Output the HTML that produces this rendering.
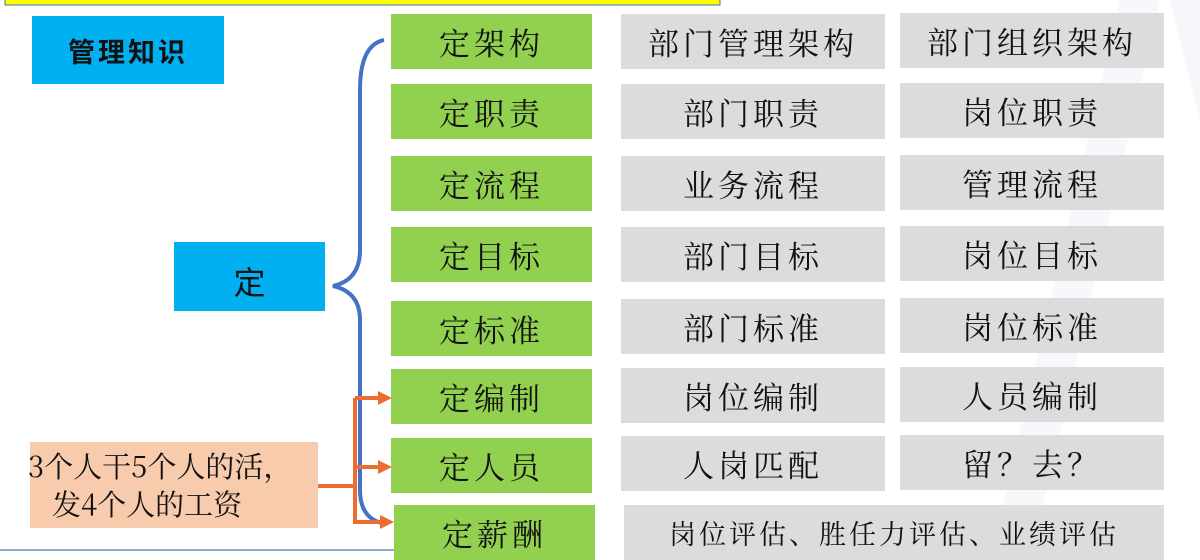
<!DOCTYPE html>
<html><head><meta charset="utf-8"><style>
body{margin:0;width:1200px;height:560px;overflow:hidden;background:#fff;position:relative;font-family:"Noto Serif CJK SC","Liberation Serif",serif;}
.b{position:absolute;display:flex;align-items:center;justify-content:center;color:#111;}
.g{background:#92d050;width:201px;height:55px;font-size:31px;letter-spacing:4px;}
.r{background:#dcdcdc;width:264px;height:55px;font-size:31px;letter-spacing:4px;}
</style></head><body>
<svg width="1200" height="560" style="position:absolute;left:0;top:0">
<polygon points="1120,0 1160,0 1030,560 990,560" fill="#f7f8fb"/>
<polygon points="1170,0 1200,0 1200,120" fill="#f5f6f9"/>
<rect x="5" y="-2" width="715" height="7" fill="#ffff00" stroke="#4a72c4" stroke-width="1"/>
<line x1="0" y1="550" x2="400" y2="550" stroke="#8fa8d0" stroke-width="2"/>
<path d="M384,40 Q360,45 360,90 L360,250 Q360,280 333,286 Q360,292 360,320 L360,490 Q360,520 386,524" fill="none" stroke="#4472c4" stroke-width="4"/>
<g stroke="#ed6c2f" stroke-width="4" fill="none">
<line x1="318" y1="486" x2="355" y2="486"/>
<line x1="355" y1="398" x2="355" y2="524"/>
<line x1="355" y1="398" x2="380" y2="398"/>
<line x1="355" y1="467" x2="380" y2="467"/>
<line x1="355" y1="522" x2="382" y2="522"/>
</g>
<g fill="#ed6c2f">
<polygon points="378,391 392,398 378,405"/>
<polygon points="378,460 392,467 378,474"/>
<polygon points="380,515 394,522 380,529"/>
</g>
</svg>
<div class="b" style="left:32px;top:16px;width:192px;height:68px;background:#00b0f0;font-size:27px;font-weight:bold;font-family:'Noto Sans CJK SC',sans-serif;letter-spacing:3px">管理知识</div>
<div class="b" style="left:174px;top:242px;width:151px;height:69px;background:#00b0f0;font-size:32px;font-family:'Noto Sans CJK SC',sans-serif;padding-top:8px;box-sizing:border-box">定</div>
<div style="position:absolute;left:30px;top:442px;width:288px;height:86px;background:#f8cbad;font-size:29px;line-height:40px;color:#111;white-space:nowrap;overflow:visible">
<div style="position:absolute;left:-2px;top:4px">3个人干5个人的活，</div><div style="position:absolute;left:22px;top:42px">发4个人的工资</div></div>

<div class="b g" style="left:391px;top:14px">定架构</div>
<div class="b g" style="left:391px;top:84px">定职责</div>
<div class="b g" style="left:391px;top:156px">定流程</div>
<div class="b g" style="left:391px;top:227px">定目标</div>
<div class="b g" style="left:391px;top:301px">定标准</div>
<div class="b g" style="left:391px;top:369px">定编制</div>
<div class="b g" style="left:391px;top:438px">定人员</div>
<div class="b g" style="left:394px;top:505px">定薪酬</div>

<div class="b r" style="left:621px;top:14px">部门管理架构</div>
<div class="b r" style="left:900px;top:13px">部门组织架构</div>
<div class="b r" style="left:621px;top:84px">部门职责</div>
<div class="b r" style="left:900px;top:83px">岗位职责</div>
<div class="b r" style="left:621px;top:156px">业务流程</div>
<div class="b r" style="left:900px;top:155px">管理流程</div>
<div class="b r" style="left:621px;top:227px">部门目标</div>
<div class="b r" style="left:900px;top:226px">岗位目标</div>
<div class="b r" style="left:621px;top:299px">部门标准</div>
<div class="b r" style="left:900px;top:298px">岗位标准</div>
<div class="b r" style="left:621px;top:368px">岗位编制</div>
<div class="b r" style="left:900px;top:367px">人员编制</div>
<div class="b r" style="left:621px;top:436px">人岗匹配</div>
<div class="b r" style="left:900px;top:435px">留？去？</div>
<div class="b r" style="left:624px;top:505px;width:540px;font-size:27px;letter-spacing:3px">岗位评估、胜任力评估、业绩评估</div>
</body></html>
